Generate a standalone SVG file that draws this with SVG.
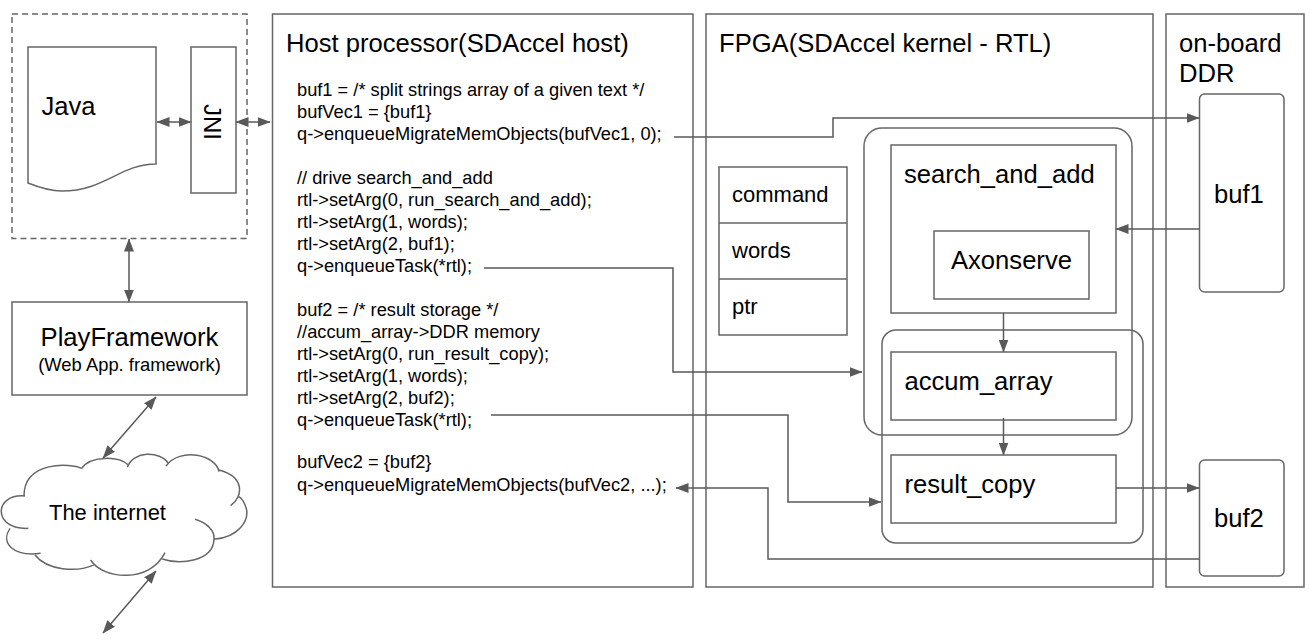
<svg xmlns="http://www.w3.org/2000/svg" width="1310" height="642" viewBox="0 0 1310 642">
<style>
text{font-family:"Liberation Sans",Arial,sans-serif;fill:#000}
.b{fill:none;stroke:#666;stroke-width:1.5}
.c{fill:none;stroke:#595959;stroke-width:1.5}
.code{font-size:18.250px}
.t{font-size:25.600px}
.m{font-size:25.600px}
</style>
<defs>
<marker id="a" viewBox="0 0 13 10" refX="12.500" refY="5" markerUnits="userSpaceOnUse" markerWidth="13" markerHeight="10" orient="auto-start-reverse"><path d="M0,0L13,5L0,10Z" fill="#595959"/></marker>
</defs>
<g id="client-group"><rect class="b" x="12" y="14" width="235" height="224.500" stroke-dasharray="6 4"/></g>
<g id="java"><path class="b" d="M28,47H156V164C120,164 105,191 62,191C50,191 38,187 28,183Z"/><text x="41.500" y="115" class="t">Java</text></g>
<g id="jni"><rect class="b" x="191" y="47" width="45" height="146"/><text transform="translate(204,104) rotate(90)" font-size="24">JNI</text></g>
<g id="host"><rect class="b" x="272.500" y="14" width="420.500" height="573"/><text x="286" y="52" class="t">Host processor(SDAccel host)</text>
<g class="code">
<text x="297" y="96">buf1 = /* split strings array of a given text */</text>
<text x="297" y="118">bufVec1 = {buf1}</text>
<text x="297" y="140">q-&gt;enqueueMigrateMemObjects(bufVec1, 0);</text>
<text x="297" y="184">// drive search_and_add</text>
<text x="297" y="206">rtl-&gt;setArg(0, run_search_and_add);</text>
<text x="297" y="228">rtl-&gt;setArg(1, words);</text>
<text x="297" y="250">rtl-&gt;setArg(2, buf1);</text>
<text x="297" y="272">q-&gt;enqueueTask(*rtl);</text>
<text x="297" y="316">buf2 = /* result storage */</text>
<text x="297" y="337.500">//accum_array-&gt;DDR memory</text>
<text x="297" y="360">rtl-&gt;setArg(0, run_result_copy);</text>
<text x="297" y="382">rtl-&gt;setArg(1, words);</text>
<text x="297" y="404">rtl-&gt;setArg(2, buf2);</text>
<text x="297" y="426">q-&gt;enqueueTask(*rtl);</text>
<text x="297" y="468">bufVec2 = {buf2}</text>
<text x="297" y="490.500">q-&gt;enqueueMigrateMemObjects(bufVec2, ...);</text>
</g></g>
<g id="fpga"><rect class="b" x="706" y="14" width="447" height="573"/><text x="719" y="52" class="t">FPGA(SDAccel kernel - RTL)</text></g>
<g id="ddr"><rect class="b" x="1166" y="14" width="138" height="573"/><text x="1179" y="52" class="t">on-board</text><text x="1179" y="82" class="t">DDR</text></g>
<g id="args"><rect class="b" x="719" y="167" width="128" height="168"/><path class="b" d="M719,223H847M719,279H847"/><text x="732" y="202" font-size="22">command</text><text x="732" y="258" font-size="22">words</text><text x="732" y="314" font-size="22">ptr</text></g>
<g id="group-a"><rect class="b" x="864" y="128" width="268" height="307" rx="18"/></g>
<g id="group-b"><rect class="b" x="882" y="330" width="261" height="213" rx="14"/></g>
<g id="search_and_add"><rect class="b" x="891" y="145" width="225" height="168"/><text x="904" y="183" class="m">search_and_add</text></g>
<g id="axonserve"><rect class="b" x="934" y="231" width="155" height="68"/><text x="951" y="269" class="m">Axonserve</text></g>
<g id="accum_array"><rect class="b" x="891" y="352" width="225" height="68"/><text x="904.500" y="390" class="m">accum_array</text></g>
<g id="result_copy"><rect class="b" x="891" y="455" width="225" height="68"/><text x="904.500" y="493" class="m">result_copy</text></g>
<g id="buf1"><rect class="b" x="1199.500" y="94" width="84.500" height="198" rx="5"/><text x="1214" y="203" class="m">buf1</text></g>
<g id="buf2"><rect class="b" x="1199.500" y="460" width="84.500" height="116" rx="5"/><text x="1214" y="527" class="m">buf2</text></g>
<g id="play"><rect class="b" x="12" y="302" width="235" height="93"/><text x="129.500" y="346" font-size="25.600" text-anchor="middle">PlayFramework</text><text x="129.500" y="371" font-size="18.400" text-anchor="middle">(Web App. framework)</text></g>
<g id="internet"><path class="b" transform="translate(0,380) scale(.3333)" style="stroke-width:4.500" d="M245,265C215,250 70,240 72,350M75,348C-20,340 -23,450 85,445M30,445C0,490 40,530 122,520M105,525C140,570 230,580 285,553M272,540C310,600 450,610 495,518M487,537C540,555 640,545 642,478M585,418C625,430 645,455 642,478C720,470 745,420 740,390C735,370 725,355 717,350M692,377C730,350 735,290 657,270M657,275C650,225 540,200 498,258M505,250C480,212 400,212 382,262M385,255C355,227 270,227 245,265"/><text x="107.500" y="520" font-size="21.900" text-anchor="middle">The internet</text></g>
<g id="connectors">
<path class="c" d="M157,122H191" marker-start="url(#a)" marker-end="url(#a)"/>
<path class="c" d="M236,122H270" marker-start="url(#a)" marker-end="url(#a)"/>
<path class="c" d="M129,239V302" marker-start="url(#a)" marker-end="url(#a)"/>
<path class="c" d="M156,397L103,458" marker-start="url(#a)" marker-end="url(#a)"/>
<path class="c" d="M156,571L103,633" marker-start="url(#a)" marker-end="url(#a)"/>
<path class="c" d="M674,137H833V118H1199" marker-end="url(#a)"/>
<path class="c" d="M1199,229H1116" marker-end="url(#a)"/>
<path class="c" d="M484,268H673V372H862" marker-end="url(#a)"/>
<path class="c" d="M1003.500,313V352" marker-end="url(#a)"/>
<path class="c" d="M1003.500,418V455" marker-end="url(#a)"/>
<path class="c" d="M491,415H788V502H881" marker-end="url(#a)"/>
<path class="c" d="M1116,488H1199" marker-end="url(#a)"/>
<path class="c" d="M1199,559H768V488H676" marker-end="url(#a)"/>
</g>
</svg>
